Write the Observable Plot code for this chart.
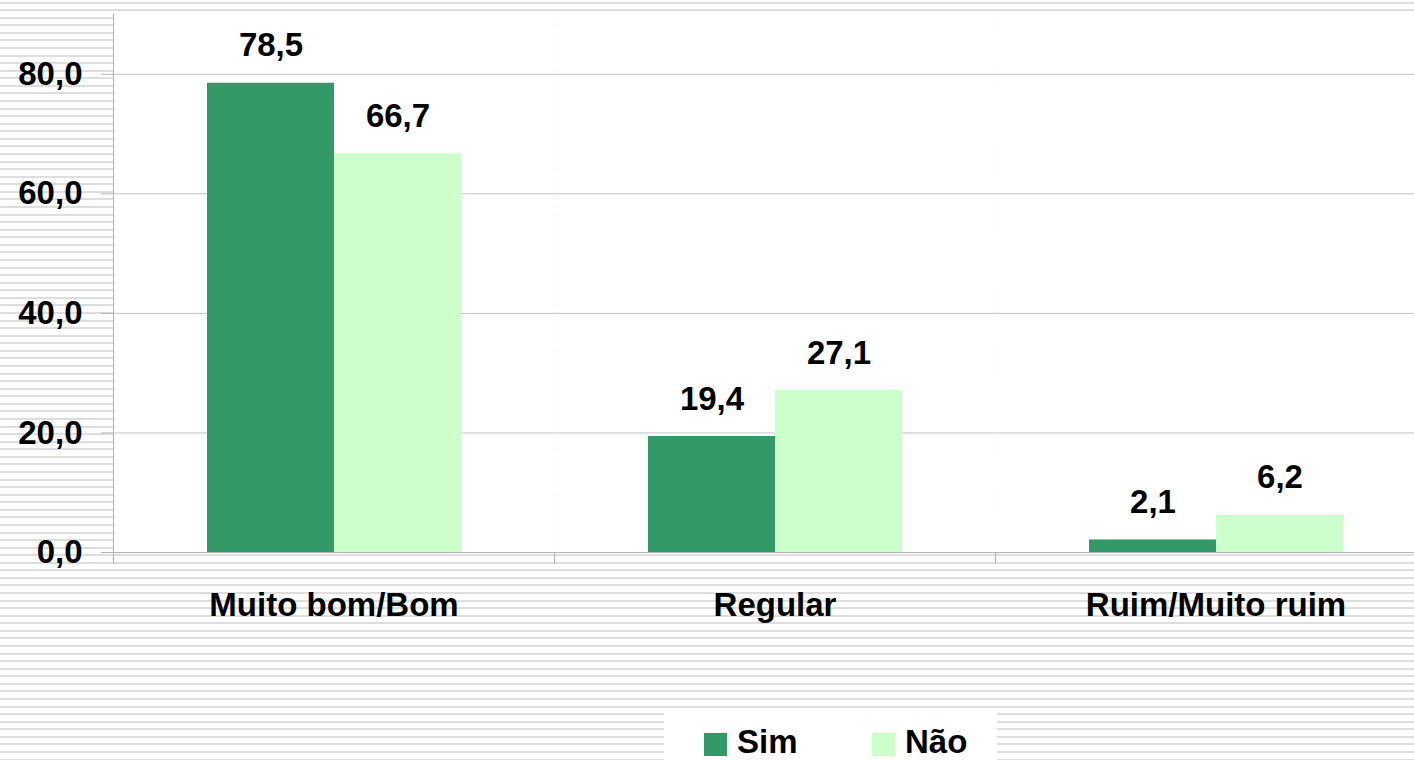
<!DOCTYPE html>
<html>
<head>
<meta charset="utf-8">
<script src="https://cdn.jsdelivr.net/npm/d3@7"></script>
<script src="https://cdn.jsdelivr.net/npm/@observablehq/plot@0.6"></script>
<style>
  html, body { margin: 0; padding: 0; }
  body {
    width: 1414px; height: 760px; overflow: hidden; position: relative;
    font-family: "Liberation Sans", Arial, sans-serif;
    background: repeating-linear-gradient(to bottom, #ffffff 0px, #ffffff 1.6px, #dedede 1.6px, #dedede 3.6px, #ffffff 3.6px, #ffffff 7.57px);
  }
  #chart { position: absolute; left: 0; top: 0; }
  #legend {
    position: absolute; left: 664px; top: 713px; width: 333px; height: 47px;
    background: #fff; font-weight: bold; font-size: 33px; color: #000;
  }
  .item { position: absolute; top: 12px; display: flex; align-items: center; line-height: 33px; }
  .sw { width: 23px; height: 23px; margin-right: 10px; margin-top: 5px; }
</style>
</head>
<body>
<div id="chart"></div>
<div id="legend">
  <div class="item" style="left:40px"><div class="sw" style="background:#339966"></div><span>Sim</span></div>
  <div class="item" style="left:208px"><div class="sw" style="background:#CCFFCC"></div><span>Não</span></div>
</div>
<script>
const categories = ["Muito bom/Bom", "Regular", "Ruim/Muito ruim"];
const series = ["Sim", "Não"];
const simValues = [78.5, 19.4, 2.1];
const naoValues = [66.7, 27.1, 6.2];
const colors = ["#339966", "#CCFFCC"];
const yTicks = [0, 20, 40, 60, 80];

const rows = [];
categories.forEach((c, i) => {
  rows.push({category: c, series: "Sim", value: simValues[i]});
  rows.push({category: c, series: "Não", value: naoValues[i]});
});

const fmt = v => v.toFixed(1).replace(".", ",");
const font = {fontSize: 33, fontWeight: "bold", fontFamily: "Liberation Sans, Arial, sans-serif"};

const chart = Plot.plot({
  width: 1414,
  height: 760,
  marginLeft: 113,
  marginRight: 0,
  marginTop: 14,
  marginBottom: 208,
  style: {background: "transparent", overflow: "hidden", fontFamily: "Liberation Sans, Arial, sans-serif"},
  fx: {domain: categories, range: [113, 1436], padding: 0},
  x: {domain: series, paddingInner: 0, paddingOuter: 0.725, axis: null},
  y: {domain: [0, 90], axis: null},
  color: {domain: series, range: colors},
  marks: [
    Plot.frame({fill: "white", stroke: null}),
    Plot.gridY(yTicks.filter(t => t > 0), {stroke: "#c4c4c4", strokeOpacity: 1}),
    Plot.barY(rows, {fx: "category", x: "series", y: "value", fill: "series"}),
    Plot.ruleY([0], {stroke: "#b5b5b5", strokeWidth: 1.2}),
    Plot.frame({anchor: "left", facetAnchor: "left", insetBottom: -11, stroke: "#b5b5b5"}),
    Plot.frame({anchor: "left", insetTop: 538, insetBottom: -11, stroke: "#b5b5b5"}),
    Plot.axisY({ticks: yTicks, tickSize: 12, tickPadding: 19, stroke: "#b5b5b5", color: "#000",
      tickFormat: fmt, label: null, ...font}),
    Plot.axisFx({anchor: "bottom", tickSize: 0, tickPadding: 40, label: null, color: "#000", ...font}),
    Plot.text(rows, {fx: "category", x: "series", y: "value", text: d => fmt(d.value),
      dy: -27, lineAnchor: "bottom", fill: "#000", ...font})
  ]
});
document.getElementById("chart").appendChild(chart);
</script>
</body>
</html>
